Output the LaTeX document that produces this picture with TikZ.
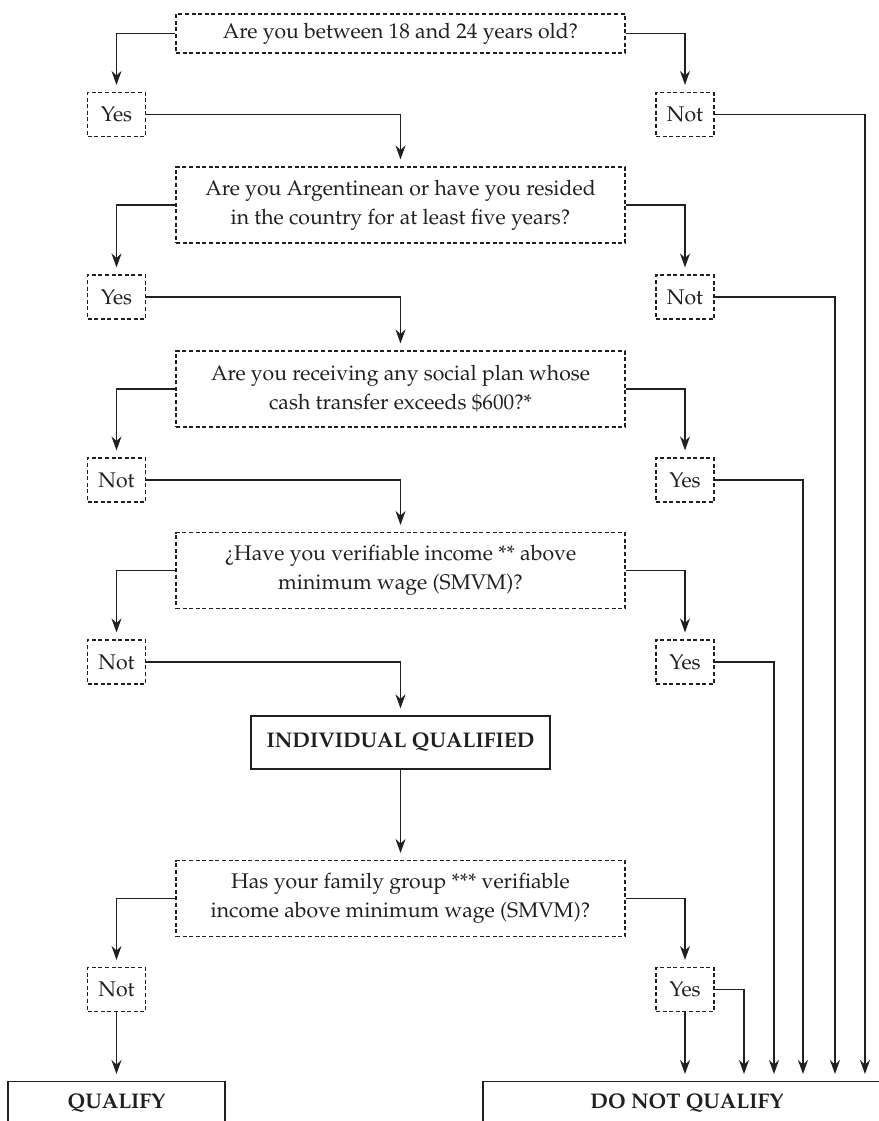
\documentclass[tikz,border=0pt]{standalone}
\usepackage[T1]{fontenc}
\renewcommand{\rmdefault}{ppl}
\usetikzlibrary{arrows.meta}
\definecolor{ink}{HTML}{231F20}
\begin{document}
\begin{tikzpicture}[x=0.5pt,y=-0.5pt,
  every node/.style={font=\fontsize{10.6}{14.5}\selectfont, text=ink},
  dashbox/.style={draw=ink, line width=0.6pt, dash pattern=on 2pt off 1.3pt, inner sep=0pt},
  qbox/.style={dashbox, minimum width=224.5pt, minimum height=38pt, align=center},
  abox/.style={dashbox, minimum width=29pt, minimum height=22pt},
  ibox/.style={draw=ink, line width=0.65pt, inner sep=0pt, minimum width=149.5pt, minimum height=26.5pt},
  obox/.style={draw=ink, line width=0.65pt, inner sep=0pt, anchor=north, text height=13.5pt, text depth=30pt},
  conn/.style={draw=ink, line width=0.55pt, -{Stealth[length=7pt,width=5pt,inset=2.3pt]}, shorten >=3.5pt}]
\clip (0,0) rectangle (879,1121);
\fill[white] (0,0) rectangle (879,1121);
% questions and answers
\node[qbox, minimum height=19.5pt] (q1) at (400.5,33.5) {Are you between 18 and 24 years old?};
\node[abox] (a1y) at (116.5,114.5) {Yes};
\node[abox] (a1n) at (685,114.5) {Not};
\node[qbox] (q2) at (400.5,205) {Are you Argentinean or have you resided\\in the country for at least five years?};
\node[abox] (a2y) at (116.5,297) {Yes};
\node[abox] (a2n) at (685,297) {Not};
\node[qbox] (q3) at (400.5,389) {Are you receiving any social plan whose\\cash transfer exceeds \$600?*};
\node[abox] (a3n) at (116.5,480) {Not};
\node[abox] (a3y) at (685,480) {Yes};
\node[qbox] (q4) at (400.5,570.5) {\textquestiondown Have you verifiable income ** above\\minimum wage (SMVM)?};
\node[abox] (a4n) at (116.5,662) {Not};
\node[abox] (a4y) at (685,662) {Yes};
\node[ibox] (iq) at (400.5,742.5) {\textbf{INDIVIDUAL QUALIFIED}};
\node[qbox] (q5) at (400.5,898.5) {Has your family group *** verifiable\\income above minimum wage (SMVM)?};
\node[abox] (a5n) at (116.5,989.5) {Not};
\node[abox] (a5y) at (685,989.5) {Yes};
\node[obox, minimum width=108.5pt] (qual) at (116.5,1081) {\textbf{QUALIFY}};
\node[obox, minimum width=204pt] (dnq) at (687,1081) {\textbf{DO NOT QUALIFY}};
% columns of the exits
\coordinate (c1) at (865,0);
\coordinate (c2) at (835,0);
\coordinate (c3) at (803,0);
\coordinate (c4) at (774,0);
\coordinate (c5) at (744,0);
% connectors
\draw[conn] (q1.west) -| (a1y.north);
\draw[conn] (q1.east) -| (a1n.north);
\draw[conn] (a1y.east) -| (q2.north);
\draw[conn] (q2.west) -| (a2y.north);
\draw[conn] (q2.east) -| (a2n.north);
\draw[conn] (a2y.east) -| (q3.north);
\draw[conn] (q3.west) -| (a3n.north);
\draw[conn] (q3.east) -| (a3y.north);
\draw[conn] (a3n.east) -| (q4.north);
\draw[conn] (q4.west) -| (a4n.north);
\draw[conn] (q4.east) -| (a4y.north);
\draw[conn] (a4n.east) -| (iq.north);
\draw[conn] (iq.south) -- (q5.north);
\draw[conn] (q5.west) -| (a5n.north);
\draw[conn] (q5.east) -| (a5y.north);
\draw[conn] (a5n.south) -- (qual.north);
\draw[conn] (a5y.south) -- (a5y.south |- dnq.north);
\draw[conn] (a5y.east) -| (c5 |- dnq.north);
\draw[conn] (a4y.east) -| (c4 |- dnq.north);
\draw[conn] (a3y.east) -| (c3 |- dnq.north);
\draw[conn] (a2n.east) -| (c2 |- dnq.north);
\draw[conn] (a1n.east) -| (c1 |- dnq.north);
\end{tikzpicture}
\end{document}
